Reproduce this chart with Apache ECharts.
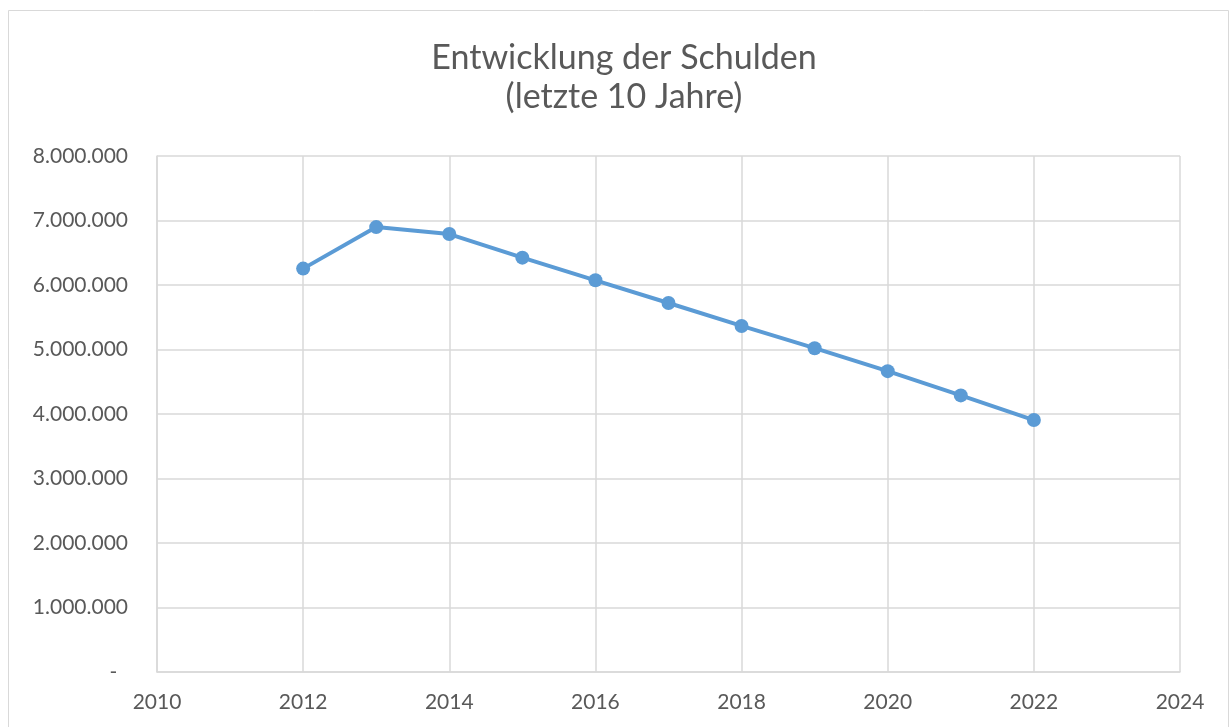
<!DOCTYPE html>
<html><head><meta charset="utf-8">
<script src="https://cdn.jsdelivr.net/npm/echarts@6/dist/echarts.min.js"></script>
<style>html,body{margin:0;padding:0;background:#fff}#c{width:1231px;height:727px}</style>
</head><body><div id="c"></div>
<script>
const years = [2012, 2013, 2014, 2015, 2016, 2017, 2018, 2019, 2020, 2021, 2022];
const debts = [6254000, 6898000, 6790000, 6424000, 6073000, 5721000, 5365000, 5020000, 4664000, 4288000, 3906000];
const titleLines = ['Entwicklung der Schulden', '(letzte 10 Jahre)'];

const FONT = 'Lato, "Open Sans", sans-serif';
function fmt(v) {
  if (v === 0) return '-  ';
  return String(Math.round(v)).replace(/\B(?=(\d{3})+(?!\d))/g, '.');
}
const chart = echarts.init(document.getElementById('c'), null, {renderer: 'canvas'});
chart.setOption({
  animation: false,
  backgroundColor: '#fff',
  title: {
    text: titleLines.join('\n'),
    left: 619, top: 34, textAlign: 'center',
    textStyle: {fontFamily: FONT, fontSize: 34, fontWeight: 'normal', color: '#595959', lineHeight: 39}
  },
  graphic: [{
    type: 'rect', shape: {x: 8.5, y: 10.5, width: 1220, height: 730},
    style: {fill: 'none', stroke: '#d9d9d9', lineWidth: 1}, silent: true, z: -1
  }],
  grid: {left: 157, right: 51, top: 156, bottom: 55, containLabel: false},
  xAxis: {
    type: 'value', min: 2010, max: 2024, interval: 2,
    axisLine: {show: true, lineStyle: {color: '#d9d9d9', width: 1.5}},
    axisTick: {show: false},
    splitLine: {show: true, lineStyle: {color: '#d9d9d9', width: 1.5}},
    axisLabel: {fontFamily: FONT, fontSize: 21, color: '#595959', margin: 20, formatter: v => String(v)}
  },
  yAxis: {
    type: 'value', min: 0, max: 8000000, interval: 1000000,
    axisLine: {show: true, lineStyle: {color: '#d9d9d9', width: 1.5}},
    axisTick: {show: false},
    splitLine: {show: true, lineStyle: {color: '#d9d9d9', width: 1.5}},
    axisLabel: {fontFamily: FONT, fontSize: 21, color: '#595959', margin: 29, formatter: fmt}
  },
  series: [{
    type: 'line',
    data: years.map((y, i) => [y, debts[i]]),
    symbol: 'circle', symbolSize: 14,
    lineStyle: {color: '#5B9BD5', width: 4},
    itemStyle: {color: '#5B9BD5'}
  }]
});
</script></body></html>
